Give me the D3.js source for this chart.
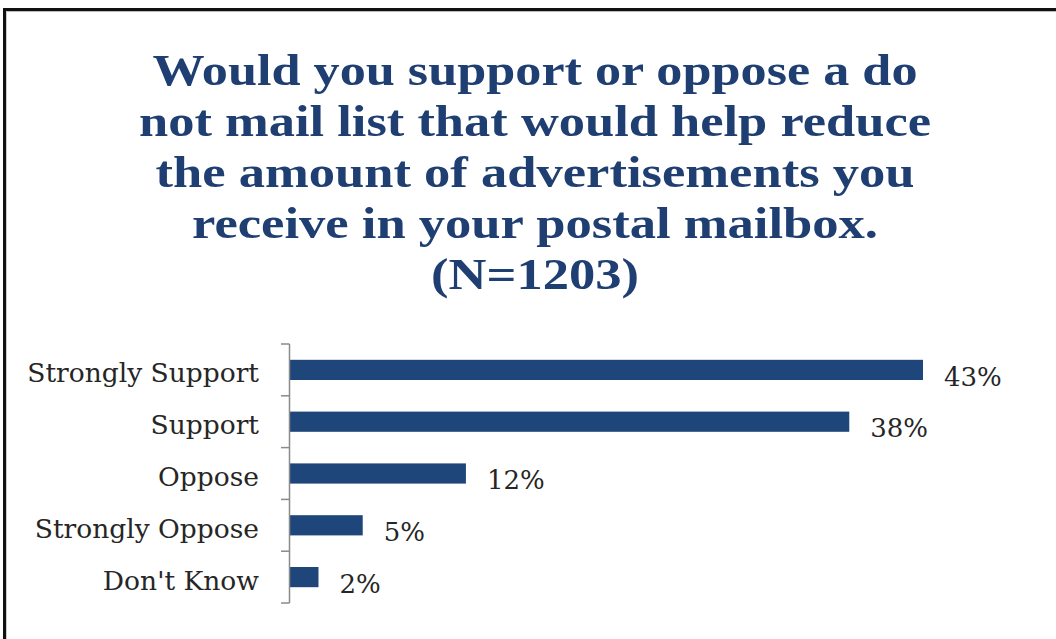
<!DOCTYPE html>
<html>
<head>
<meta charset="utf-8">
<script src="https://cdn.jsdelivr.net/npm/d3@7"></script>
<style>
  html, body { margin: 0; padding: 0; background: #fff; }
  svg { display: block; }
</style>
</head>
<body>
<svg id="chart" width="1056" height="639"></svg>
<script>
const titleLines = [
  "Would you support or oppose a do",
  "not mail list that would help reduce",
  "the amount of advertisements you",
  "receive in your postal mailbox.",
  "(N=1203)"
];
const categories = ["Strongly Support", "Support", "Oppose", "Strongly Oppose", "Don't Know"];
const values = [43, 38, 12, 5, 2];
const valueLabels = ["43%", "38%", "12%", "5%", "2%"];

// layout (widths of title lines as they appear in the reference)
const titleWidths = [765, 792, 759, 686, 208];

const svg = d3.select("#chart");
const W = 1056, H = 639;

// frame
svg.append("rect").attr("x", 0).attr("y", 0).attr("width", W).attr("height", H).attr("fill", "#fff");
svg.append("line").attr("x1", 3).attr("x2", W).attr("y1", 9.5).attr("y2", 9.5)
  .attr("stroke", "#111").attr("stroke-width", 3);
svg.append("line").attr("x1", 3).attr("x2", W).attr("y1", 11.5).attr("y2", 11.5)
  .attr("stroke", "#bbb").attr("stroke-width", 1);
svg.append("line").attr("x1", 4.5).attr("x2", 4.5).attr("y1", 8).attr("y2", H)
  .attr("stroke", "#111").attr("stroke-width", 3);
svg.append("line").attr("x1", 6.5).attr("x2", 6.5).attr("y1", 11).attr("y2", H)
  .attr("stroke", "#ccc").attr("stroke-width", 1);

// title
const titleColor = "#1f3f72";
svg.append("g").selectAll("text").data(titleLines).join("text")
  .attr("x", 535)
  .attr("y", (d, i) => 85 + i * 51)
  .attr("text-anchor", "middle")
  .attr("font-family", "'Liberation Serif', 'Times New Roman', serif")
  .attr("font-weight", "bold")
  .attr("font-size", 45)
  .attr("textLength", (d, i) => titleWidths[i])
  .attr("lengthAdjust", "spacingAndGlyphs")
  .attr("fill", titleColor)
  .text(d => d);

// scales
const x = d3.scaleLinear().domain([0, 43]).range([289, 923]);
const y = d3.scaleBand().domain(categories).range([344, 603]).padding(0);
const barH = y.bandwidth() * 0.39;

// bars
svg.append("g").selectAll("rect").data(categories).join("rect")
  .attr("x", x(0))
  .attr("y", d => y(d) + (y.bandwidth() - barH) / 2)
  .attr("width", (d, i) => x(values[i]) - x(0))
  .attr("height", barH)
  .attr("fill", "#1f467b");

// axis line and ticks (between categories)
const axisColor = "#8a8a8a";
const axisG = svg.append("g");
axisG.append("line")
  .attr("x1", x(0) + 0.5).attr("x2", x(0) + 0.5)
  .attr("y1", y.range()[0]).attr("y2", y.range()[1])
  .attr("stroke", axisColor).attr("stroke-width", 1.5);
const tickYs = categories.map(c => y(c)).concat([y.range()[1]]);
axisG.selectAll("line.tick").data(tickYs).join("line")
  .attr("class", "tick")
  .attr("x1", x(0) - 8).attr("x2", x(0) + 0.5)
  .attr("y1", d => d).attr("y2", d => d)
  .attr("stroke", axisColor).attr("stroke-width", 1.5);

// category labels
svg.append("g").selectAll("text").data(categories).join("text")
  .attr("x", 259)
  .attr("y", d => y(d) + y.bandwidth() / 2)
  .attr("dy", "0.47em")
  .attr("text-anchor", "end")
  .attr("font-family", "'DejaVu Serif', serif")
  .attr("font-size", 26.5)
  .attr("fill", "#262626")
  .text(d => d);

// value labels
svg.append("g").selectAll("text").data(categories).join("text")
  .attr("x", (d, i) => x(values[i]) + 21)
  .attr("y", d => y(d) + y.bandwidth() / 2)
  .attr("dy", "0.6em")
  .attr("font-family", "'DejaVu Serif', serif")
  .attr("font-size", 26)
  .attr("fill", "#262626")
  .text((d, i) => valueLabels[i]);
</script>
</body>
</html>
